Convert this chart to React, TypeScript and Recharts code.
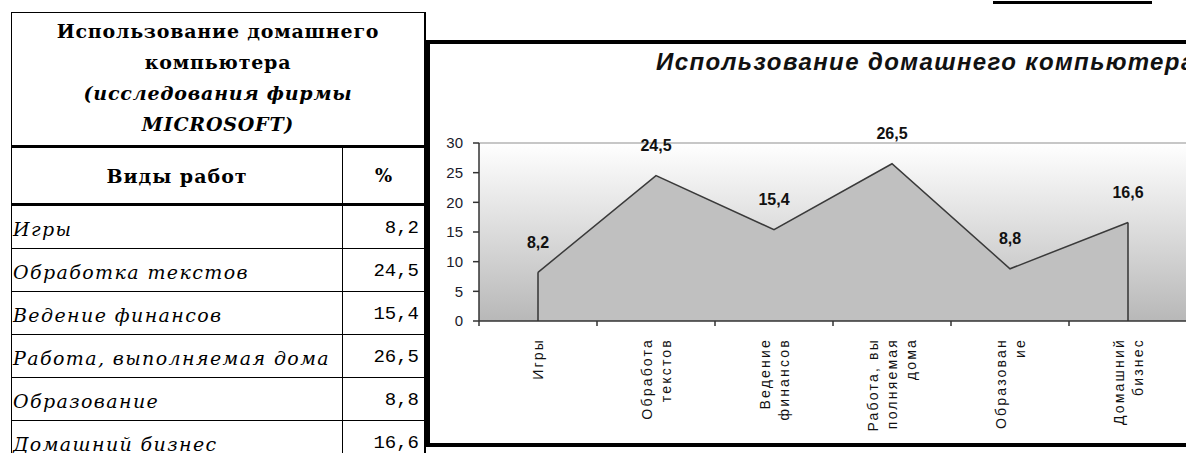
import React from 'react';
import { AreaChart, Area, XAxis, YAxis, CartesianGrid, ReferenceLine, LabelList } from 'recharts';

// ---------- data ----------
const tableTitleBold = ['Использование домашнего', 'компьютера'];
const tableTitleItalic = ['(исследования фирмы', 'MICROSOFT)'];
const headerName = 'Виды работ';
const headerPct = '%';
const categories = [
  'Игры',
  'Обработка текстов',
  'Ведение финансов',
  'Работа, выполняемая дома',
  'Образование',
  'Домашний бизнес',
];
const values = [8.2, 24.5, 15.4, 26.5, 8.8, 16.6];
const axisLabelLines = [
  ['Игры'],
  ['Обработа', 'текстов'],
  ['Ведение', 'финансов'],
  ['Работа, вы', 'полняемая', 'дома'],
  ['Образован', 'ие'],
  ['Домашний', 'бизнес'],
];
const yTicks = [0, 5, 10, 15, 20, 25, 30];
const chartTitle = 'Использование домашнего компьютера';

const fmt = (v: number) => String(v).replace('.', ',');
const data = categories.map((c, i) => ({ idx: i, name: c, value: values[i] }));
const xTicks: number[] = [];
for (let i = 0; i <= categories.length * 2; i++) xTicks.push(-0.5 + i * 0.5);

// ---------- layout ----------
const CH_W = 760;
const CH_H = 399;
const M_TOP = 99;
const PLOT_H = 178;
const Y_W = 49;
const X_H = CH_H - M_TOP - PLOT_H;
const TICK = 5;
const SERIF = '"DejaVu Serif", "Liberation Serif", serif';
const SANS = '"Liberation Sans", Arial, sans-serif';
const MONO = '"Liberation Mono", monospace';

const XTick = (props: any) => {
  const { x, y, payload } = props;
  const v = payload.value;
  if (!Number.isInteger(v)) {
    return <line x1={x} x2={x} y1={y - TICK} y2={y} stroke="#333" strokeWidth={1.5} />;
  }
  const lines = axisLabelLines[v] || [];
  const n = lines.length;
  return (
    <g transform={`translate(${x},${y + 12}) rotate(-90)`}>
      <text textAnchor="end" dominantBaseline="central" fontFamily={SANS} fontSize={14} letterSpacing={2.2} fill="#111">
        {lines.map((l, i) => (
          <tspan key={i} x={0} y={(i - (n - 1) / 2) * 19}>
            {l}
          </tspan>
        ))}
      </text>
    </g>
  );
};

const EdgeDot = (props: any) => {
  const { cx, cy, index } = props;
  if (index === 0 || index === values.length - 1) {
    return <line key={`e${index}`} x1={cx} x2={cx} y1={cy} y2={M_TOP + PLOT_H} stroke="#333" strokeWidth={1.5} />;
  }
  return <g key={`e${index}`} />;
};

const ValueLabel = (props: any) => {
  const { x, y, value } = props;
  return (
    <text x={x} y={y - 30} textAnchor="middle" dominantBaseline="central" fontFamily={SANS} fontWeight="bold" fontSize={16} fill="#111">
      {fmt(value)}
    </text>
  );
};

const box = (l: number, t: number, r: number, b: number, bl: number, bt: number, br: number, bb: number): React.CSSProperties => ({
  position: 'absolute',
  left: l,
  top: t,
  width: r - l,
  height: b - t,
  boxSizing: 'border-box',
  borderLeft: bl ? `${bl}px solid #000` : undefined,
  borderTop: bt ? `${bt}px solid #000` : undefined,
  borderRight: br ? `${br}px solid #000` : undefined,
  borderBottom: bb ? `${bb}px solid #000` : undefined,
});

export default function App() {
  const ROW0 = 206;
  const ROWH = 43;
  return (
    <div style={{ position: 'fixed', left: 0, top: 0, width: 1186, height: 453, overflow: 'hidden', background: '#fff' }}>
      {/* top-right underline */}
      <div style={{ position: 'absolute', left: 993, top: 1, width: 159, height: 3, background: '#000' }} />

      {/* table title */}
      <div style={{ ...box(11, 12, 426, 148, 1, 1, 2, 3), paddingTop: 3, textAlign: 'center', fontFamily: SERIF, fontWeight: 'bold', fontSize: 19, letterSpacing: 0.8, lineHeight: '31px', color: '#000', whiteSpace: 'nowrap' }}>
        {tableTitleBold.map((t, i) => (
          <div key={i}>{t}</div>
        ))}
        {tableTitleItalic.map((t, i) => (
          <div key={i} style={{ fontStyle: 'italic' }}>{t}</div>
        ))}
      </div>

      {/* header */}
      <div style={{ ...box(11, 148, 343, ROW0, 1, 0, 1, 3), display: 'flex', alignItems: 'center', justifyContent: 'center', fontFamily: SERIF, fontWeight: 'bold', fontSize: 19, letterSpacing: 1 }}>
        {headerName}
      </div>
      <div style={{ ...box(343, 148, 426, ROW0, 0, 0, 2, 3), display: 'flex', alignItems: 'center', justifyContent: 'center', fontFamily: SERIF, fontWeight: 'bold', fontSize: 18 }}>
        {headerPct}
      </div>

      {/* rows */}
      {categories.map((c, i) => (
        <React.Fragment key={c}>
          <div style={{ ...box(11, ROW0 + i * ROWH, 343, ROW0 + (i + 1) * ROWH, 1, 0, 1, 1), display: 'flex', alignItems: 'center', paddingLeft: 1, paddingTop: 4, fontFamily: SERIF, fontStyle: 'italic', fontSize: 19, letterSpacing: 1.4, whiteSpace: 'nowrap' }}>
            {c}
          </div>
          <div style={{ ...box(343, ROW0 + i * ROWH, 426, ROW0 + (i + 1) * ROWH, 0, 0, 2, 1), display: 'flex', alignItems: 'center', justifyContent: 'flex-end', paddingRight: 5, paddingTop: 1, fontFamily: MONO, fontSize: 19 }}>
            {fmt(values[i])}
          </div>
        </React.Fragment>
      ))}

      {/* chart frame */}
      <div style={{ position: 'absolute', left: 426, top: 40, width: 900, height: 407, boxSizing: 'border-box', borderTop: '4px solid #000', borderLeft: '4px solid #000', borderBottom: '4px solid #000' }} />

      {/* chart title */}
      <div style={{ position: 'absolute', left: 656, top: 47, fontFamily: SANS, fontWeight: 'bold', fontStyle: 'italic', fontSize: 24, letterSpacing: 1.4, lineHeight: '30px', whiteSpace: 'nowrap', color: '#111' }}>
        {chartTitle}
      </div>

      <div style={{ position: 'absolute', left: 430, top: 44 }}>
        <AreaChart width={CH_W} height={CH_H} data={data} margin={{ top: M_TOP, right: CH_W - Y_W - 708, bottom: 0, left: 0 }}>
          <defs>
            <linearGradient id="plotBg" x1="0" y1="0" x2="0" y2="1">
              <stop offset="0%" stopColor="#ffffff" />
              <stop offset="100%" stopColor="#b8b8b8" />
            </linearGradient>
          </defs>
          <CartesianGrid horizontal={false} vertical={false} fill="url(#plotBg)" fillOpacity={1} />
          <ReferenceLine y={30} stroke="#b4b4b4" strokeWidth={1.5} />
          <XAxis
            type="number"
            dataKey="idx"
            domain={[-0.5, categories.length - 0.5]}
            ticks={xTicks}
            interval={0}
            height={X_H}
            tickLine={false}
            tickSize={TICK}
            tickMargin={0}
            axisLine={{ stroke: '#333', strokeWidth: 1.5 }}
            tick={<XTick />}
          />
          <YAxis
            type="number"
            domain={[0, 30]}
            ticks={yTicks}
            interval={0}
            width={Y_W}
            tickSize={6}
            tickMargin={10}
            axisLine={{ stroke: '#333', strokeWidth: 1.5 }}
            tickLine={{ stroke: '#333', strokeWidth: 1.5 }}
            tick={{ fontFamily: SANS, fontSize: 15, fill: '#1a1a2a' }}
          />
          <Area
            type="linear"
            dataKey="value"
            fill="#c0c0c0"
            fillOpacity={1}
            stroke="#3a3a3a"
            strokeWidth={1.5}
            isAnimationActive={false}
            dot={EdgeDot}
            activeDot={false}
          >
            <LabelList dataKey="value" content={<ValueLabel />} />
          </Area>
        </AreaChart>
      </div>
    </div>
  );
}
